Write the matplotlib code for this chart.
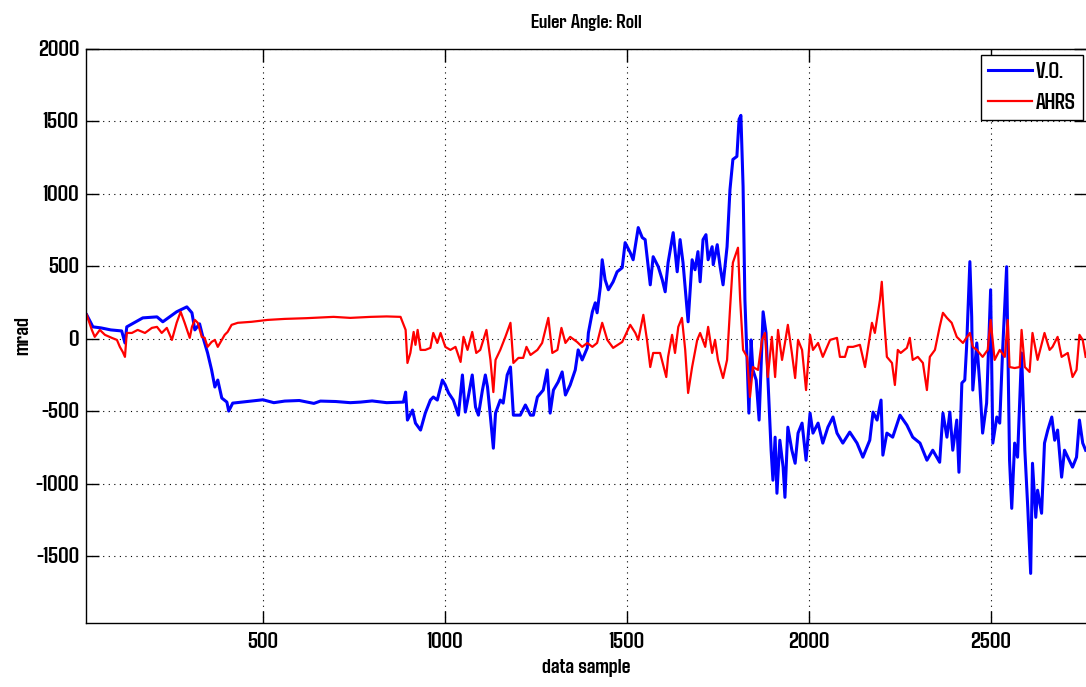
import matplotlib
matplotlib.use("Agg")
import matplotlib.pyplot as plt

plt.rcParams["font.family"] = ["Agdasima", "DejaVu Sans"]
plt.rcParams["font.weight"] = "bold"
plt.rcParams["axes.titleweight"] = "bold"
plt.rcParams["axes.labelweight"] = "bold"
plt.rcParams["axes.unicode_minus"] = False

# V.O. roll estimate (sample, mrad)
vo_sample = [16, 33, 55, 82, 112, 121, 126, 170, 209, 225, 263, 291, 305, 313, 326, 335, 348, 359, 368, 376,
             387, 401, 406, 417, 466, 500, 530, 560, 600, 640, 658, 700, 740, 768, 800, 840, 886, 892, 897, 911,
             919, 933, 946, 960, 968, 979, 993, 1001,
             1010, 1023, 1037, 1048, 1056, 1064, 1075, 1084, 1092, 1103, 1111, 1117, 1125, 1133, 1139, 1152, 1160,
             1171, 1180, 1188, 1207, 1221, 1235, 1243, 1254, 1270, 1281, 1289, 1298, 1311, 1322, 1331, 1344, 1358,
             1366, 1377, 1391, 1394, 1405, 1413, 1418, 1427, 1432, 1440, 1449, 1462, 1473, 1487, 1495, 1509, 1517,
             1531, 1542, 1550, 1564, 1572, 1586, 1597, 1605, 1613, 1627, 1638, 1646, 1654, 1668, 1679, 1687, 1695,
             1701, 1709, 1717, 1723, 1734, 1737, 1748, 1756, 1764, 1775, 1783, 1791, 1802, 1808, 1813, 1819, 1824,
             1830, 1835, 1841, 1846, 1855, 1863, 1874, 1882, 1887, 1896, 1901, 1907, 1912, 1920, 1929, 1934, 1942,
             1953, 1962, 1970, 1981, 1992, 2003, 2011, 2025, 2038, 2052, 2066, 2077, 2093, 2112, 2132, 2148, 2167,
             2176, 2187, 2198, 2203, 2214, 2230, 2250, 2269, 2285, 2305, 2324, 2340, 2359, 2368, 2379, 2387, 2395,
             2406, 2412, 2420, 2428, 2433, 2442, 2447, 2450, 2461, 2469, 2477, 2488, 2499, 2505, 2516, 2524, 2532,
             2543, 2551, 2557, 2565, 2573, 2584, 2593, 2601, 2609, 2614, 2623, 2628, 2639, 2647, 2656, 2667, 2675,
             2683, 2694, 2702, 2711, 2724, 2735, 2743, 2752, 2760]
vo_roll = [166, 83, 76, 62, 55, -28, 83, 145, 152, 118, 187, 221, 180, 62, 104, 14, -97, -214, -332, -284,
           -408, -436, -498, -443, -429, -420, -440, -429, -425, -445, -429, -432, -440, -436, -428, -440, -436,
           -367, -560, -491, -581, -629, -512, -422, -401,
           -422, -284, -318, -373, -422, -526, -249, -505, -401, -249, -470, -526, -353, -249, -332, -539, -754,
           -512, -422, -443, -249, -194, -526, -526, -456, -526, -526, -401, -353, -214, -512, -353, -297, -228,
           -387, -318, -214, -76, -145, -62, 41, 187, 249, 180, 360, 546, 408, 339, 394, 463, 491, 664, 595, 546,
           768, 699, 685, 373, 567, 498, 408, 325, 526, 733, 463, 685, 526, 118, 546, 477, 602, 394, 685, 719, 546,
           636, 512, 650, 498, 373, 636, 1030, 1238, 1259, 1515, 1542, 1051, 270, -145, -512, -7, -214, -284, -560,
           187, 41, -263, -768, -975, -678, -1065, -699, -885, -1093, -609, -768, -858, -650, -581, -837, -512,
           -650, -581, -719, -609, -539, -650, -719, -643, -719, -816, -699, -505, -560, -422, -802, -650, -678,
           -526, -595, -678, -719, -837, -768, -851, -512, -678, -505, -768, -560, -920, -304, -284, -55, 533, 152,
           -353, -28, -304, -650, -443, 339, -719, -539, -581, -76, 498, -837, -1169, -719, -816, -97, -768, -1162,
           -1618, -858, -1231, -1044, -1203, -719, -629, -539, -699, -629, -954, -768, -816, -885, -816, -560,
           -719, -768]

# AHRS roll (sample, mrad)
ahrs_sample = [16, 30, 38, 52, 66, 85, 99, 107, 115, 121, 126, 140, 156, 176, 195, 209, 222, 236, 250, 263,
               274, 285, 299, 305, 313, 321, 332, 340, 348, 359, 368, 376, 387, 395, 403, 414, 431, 469, 513, 560,
               620, 694, 740, 796, 840, 878, 892, 897, 905, 914, 919, 925, 933, 946, 960, 968, 979, 988, 1001, 1015,
               1029, 1043,
               1051, 1062, 1075, 1086, 1097, 1114, 1125, 1133, 1139, 1152, 1166, 1180, 1188, 1202, 1215, 1224,
               1235, 1254, 1267, 1284, 1295, 1309, 1320, 1331, 1344, 1363, 1377, 1391, 1405, 1418, 1432, 1446,
               1462, 1487, 1509, 1523, 1531, 1545, 1555, 1564, 1572, 1591, 1608, 1613, 1624, 1632, 1641, 1651,
               1660, 1668, 1679, 1693, 1701, 1715, 1723, 1734, 1742, 1750, 1764, 1775, 1783, 1791, 1805, 1811,
               1819, 1830, 1838, 1846, 1860, 1871, 1879, 1887, 1898, 1907, 1915, 1926, 1934, 1942, 1953, 1962,
               1970, 1981, 1992, 2003, 2011, 2025, 2038, 2058, 2077, 2085, 2099, 2107, 2121, 2140, 2154, 2173,
               2181, 2195, 2200, 2206, 2214, 2228, 2236, 2244, 2252, 2269, 2277, 2285, 2299, 2313, 2324, 2332,
               2346, 2359, 2368, 2379, 2392, 2406, 2423, 2442, 2450, 2461, 2477, 2491, 2499, 2510, 2524, 2538,
               2546, 2551, 2565, 2579, 2584, 2593, 2606, 2614, 2628, 2647, 2661, 2669, 2683, 2694, 2711, 2724,
               2735, 2743, 2752, 2760]
ahrs_roll = [166, 62, 14, 62, 28, 7, -7, -55, -90, -124, 41, 41, 62, 41, 76, 83, 41, 76, -7, 111,
             187, 111, 7, 83, 131, 111, 14, 7, -55, -21, -7, -55, -7, 28, 48, 97, 111, 118, 131, 138,
             143, 152, 145, 152, 155, 152, 62, -166, -97, 48, -41, 62, -76, -76, -62, 41, -28, 41, -55, -76,
             -55, -159,
             14, -76, 48, -97, -76, 62, -145, -367, -145, -76, 14, 111, -166, -131, -131, -55,
             -111, -76, -28, 145, -97, -76, 76, -28, 14, -21, -55, -28, -55, -28, 111, -7,
             -62, -21, 97, 41, -7, 166, -7, -194, -97, -97, -263, -124, 28, -97, 83, 145,
             -76, -373, -194, -7, 41, -55, 83, -97, -7, -145, -270, -145, 201, 526, 629, 270,
             -76, -124, -401, -194, -214, -7, 41, -263, 14, -263, 62, -145, -28, 97, -97, -270,
             -7, -76, -353, 28, -76, -28, -124, -7, 7, -124, -124, -55, -55, -41, -194, 111,
             41, 270, 394, 152, -124, -166, -318, -76, -97, -62, 7, -145, -124, -166, -353, -124,
             -76, 83, 180, 145, 111, 14, -28, 41, -55, -76, -124, -76, 131, -145, -76, -124,
             131, -194, -201, -194, 62, -194, -228, 41, -145, 41, -76, -55, 14, -124, -97, -263,
             -214, 28, -7, -124]

x_ticks = [500, 1000, 1500, 2000, 2500]
y_ticks = [-1500, -1000, -500, 0, 500, 1000, 1500, 2000]

fig = plt.figure(figsize=(10.86, 6.87), dpi=100)
ax = fig.add_axes([86 / 1086, 1 - 623 / 687, 1 - 86 / 1086, (623 - 49) / 687])

ax.plot(vo_sample, vo_roll, color=(0, 0, 1), lw=2.2, label="V.O.")
ax.plot(ahrs_sample, ahrs_roll, color=(1, 0, 0), lw=1.6, label="AHRS")

ax.set_xlim(14, 2761)
ax.set_ylim(-1960, 2000)
ax.set_xticks(x_ticks)
ax.set_yticks(y_ticks)
ax.tick_params(direction="in", length=9, width=1, top=True, right=True, labelsize=16, pad=5)
ax.tick_params(axis="x", pad=8)
ax.grid(True, color="black", linestyle=(0, (1, 4)), linewidth=0.8)
ax.spines["right"].set_visible(False)
for s in ["left", "top", "bottom"]:
    ax.spines[s].set_linewidth(1)

ax.set_title("Euler Angle: Roll", fontsize=14.5, pad=15)
ax.set_xlabel("data sample", fontsize=15.5, labelpad=5)
ax.set_ylabel("mrad", fontsize=15.5, labelpad=2)

leg = ax.legend(loc="upper right", bbox_to_anchor=(1083 / 1086, 1 - 55 / 687), bbox_transform=fig.transFigure,
                fontsize=15.5, frameon=True, fancybox=False, borderaxespad=0, framealpha=1,
                handlelength=2.0, handletextpad=0.2, borderpad=0.35, labelspacing=0.55)
leg.get_frame().set_edgecolor("black")
leg.get_frame().set_linewidth(1)

fig.savefig("out.png", dpi=100)
